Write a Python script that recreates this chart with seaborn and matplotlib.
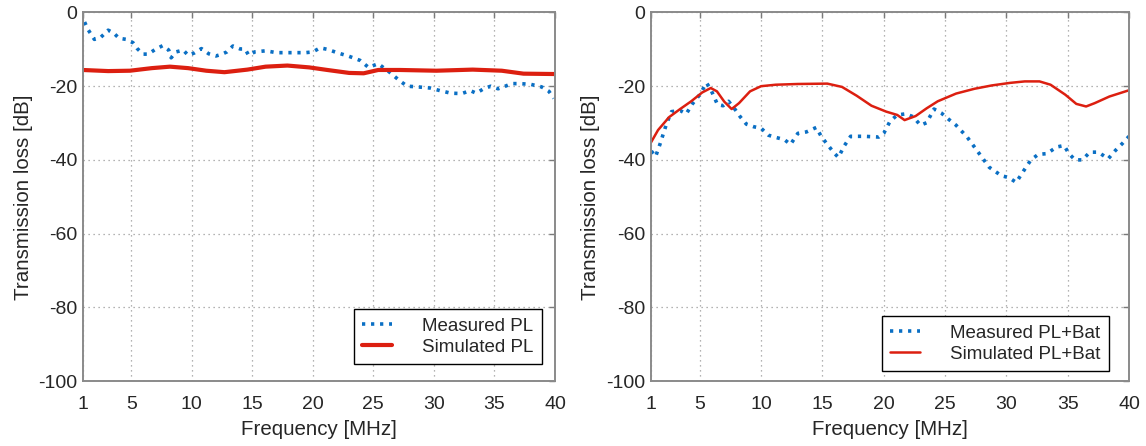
import numpy as np
import pandas as pd
import matplotlib
matplotlib.use("Agg")
import matplotlib.pyplot as plt
import seaborn as sns

# ---- data ----
pl_meas_f = [1.15, 1.45, 1.96, 2.5, 3.1, 3.56, 4.0, 4.6, 5.15, 5.5, 5.97, 6.4, 7.0, 7.6, 8.1, 8.3, 8.7,
             9.3, 9.7, 10.2, 10.8, 11.4, 12.0, 12.5, 12.9, 13.4, 14.0, 14.4, 14.7, 15.2, 16.1, 17.0,
             18.2, 19.4, 20.0, 20.6, 21.2, 22.1, 23.0, 23.9, 24.6, 25.4, 26.3, 27.2, 27.8, 28.7,
             29.7, 30.5, 31.4, 32.3, 33.0, 33.5, 34.1, 34.7, 35.3, 35.9, 36.4, 37.1, 38.0, 38.9,
             39.5, 39.9]
pl_meas_db = [-2.6, -4.7, -7.3, -6.7, -4.8, -5.6, -7.0, -7.3, -8.2, -9.8, -11.3, -11.3, -10.0, -9.0,
              -10.2, -12.3, -10.7, -10.2, -11.6, -11.0, -9.8, -11.2, -11.8, -11.3, -10.7, -9.1, -9.9,
              -9.9, -11.6, -10.7, -10.4, -10.9, -10.9, -10.9, -10.7, -9.6, -10.0, -11.0, -11.9,
              -13.0, -14.9, -13.9, -16.1, -18.6, -20.0, -20.2, -20.5, -21.2, -21.9, -22.0, -21.2,
              -21.9, -20.7, -20.0, -20.7, -20.0, -19.3, -19.3, -19.5, -20.2, -21.4, -23.3]

pl_sim_f = [1, 3.1, 4.9, 6.7, 8.2, 9.7, 11.2, 12.7, 14.6, 16.1, 17.9, 19.7, 21.2, 23.0, 24.2,
            25.4, 27.2, 30.2, 33.2, 35.6, 37.4, 40]
pl_sim_db = [-15.6, -15.9, -15.8, -15.1, -14.7, -15.1, -15.8, -16.2, -15.5, -14.7, -14.4, -14.9,
             -15.6, -16.4, -16.5, -15.6, -15.6, -15.8, -15.5, -15.8, -16.6, -16.7]

bat_meas_f = [1.05, 1.4, 1.75, 2.3, 2.7, 3.4, 3.9, 4.4, 5.0, 5.55, 5.9, 6.45, 6.9, 7.35, 7.9, 8.3,
              8.8, 9.4, 10.0, 10.6, 11.2, 11.9, 12.4, 13.0, 13.7, 14.5, 14.9, 15.4, 16.0, 16.3,
              16.8, 17.3, 18.4, 19.6, 20.0, 20.5, 21.1, 21.8, 22.4, 23.0, 23.5, 24.1, 24.7, 25.3,
              25.9, 26.8, 27.7, 28.6, 29.6, 30.2, 30.8, 31.4, 32.0, 32.6, 33.3, 34.1, 34.7, 35.1,
              35.6, 36.2, 36.8, 37.5, 38.3, 38.9, 39.5, 40]
bat_meas_db = [-37.6, -39.1, -35.8, -30.1, -26.9, -26.6, -27.5, -24.8, -22.3, -19.1, -20.9, -25.0,
               -25.3, -24.1, -26.4, -28.3, -30.3, -31.0, -31.4, -33.3, -33.9, -34.5, -35.8, -32.8,
               -32.4, -31.2, -33.6, -35.8, -38.3, -39.3, -36.1, -33.6, -33.6, -33.8, -32.8, -29.6,
               -27.8, -27.5, -28.3, -30.6, -29.9, -26.2, -27.3, -29.0, -30.6, -33.8, -37.9, -42.0,
               -44.3, -44.8, -46.1, -43.0, -40.0, -38.5, -38.3, -36.5, -36.1, -38.3, -40.0, -40.0,
               -37.9, -37.9, -39.7, -37.4, -35.4, -33.6]

bat_sim_f = [1, 1.6, 2.5, 3.4, 4.3, 5.2, 5.9, 6.4, 7.0, 7.6, 8.2, 9.1, 10.0, 11.2, 13.0, 15.4,
             16.6, 17.8, 19.0, 20.2, 21.1, 21.7, 22.6, 23.5, 24.4, 25.9, 27.4, 28.8, 30.3, 31.5,
             32.7, 33.6, 34.8, 35.7, 36.5, 37.2, 38.4, 40]
bat_sim_db = [-35.4, -31.9, -28.4, -26.2, -24.1, -21.7, -20.5, -21.4, -24.2, -26.2, -24.6, -21.4,
              -20.0, -19.6, -19.4, -19.3, -20.2, -22.6, -25.3, -26.9, -27.8, -29.2, -28.1, -26.0,
              -24.1, -22.0, -20.7, -19.8, -19.1, -18.7, -18.7, -19.6, -22.3, -24.8, -25.5, -24.6,
              -22.8, -21.1]

x_ticks = [1, 5, 10, 15, 20, 25, 30, 35, 40]
y_ticks = [0, -20, -40, -60, -80, -100]

BLUE = "#0a6fc4"
RED = "#dc1f10"

sns.set_style("white")
plt.rcParams["font.family"] = ["Liberation Sans", "DejaVu Sans"]

fig = plt.figure(figsize=(11.46, 4.46), dpi=100)
ax1 = fig.add_axes([0.0722, 0.1457, 0.4121, 0.8263])
ax2 = fig.add_axes([0.5678, 0.1457, 0.4174, 0.8263])

panels = [
    (ax1, pl_meas_f, pl_meas_db, pl_sim_f, pl_sim_db, "Measured PL", "Simulated PL", 3.0,
     (0.9725, 0.046)),
    (ax2, bat_meas_f, bat_meas_db, bat_sim_f, bat_sim_db, "Measured PL+Bat", "Simulated PL+Bat",
     1.8, (0.958, 0.027)),
]

for ax, mf, md, sf, sd, mlab, slab, slw, anchor in panels:
    dfm = pd.DataFrame({"f": mf, "db": md})
    dfs = pd.DataFrame({"f": sf, "db": sd})
    sns.lineplot(data=dfm, x="f", y="db", ax=ax, color=BLUE, lw=2.6, label=mlab,
                 dashes=False)
    sns.lineplot(data=dfs, x="f", y="db", ax=ax, color=RED, lw=slw, label=slab)
    ax.lines[0].set_dashes([0.9, 1.6])
    ax.set_xlim(1, 40)
    ax.set_ylim(-100, 0)
    ax.set_xticks(x_ticks)
    ax.set_yticks(y_ticks)
    ax.set_xticklabels([str(t) for t in x_ticks])
    ax.set_yticklabels([str(t) for t in y_ticks])
    ax.grid(True, linestyle=(0, (1, 3)), color="#9a9a9a", lw=0.9)
    ax.tick_params(direction="in", length=4, width=1, color="#7a7a7a",
                   top=True, right=True, labelsize=14)
    ax.tick_params(axis="x", pad=10.5)
    ax.tick_params(axis="y", pad=4)
    for s in ax.spines.values():
        s.set_color("#8a8a8a")
        s.set_linewidth(1.4)
    ax.set_xlabel("Frequency [MHz]", fontsize=14.8, labelpad=5)
    ax.set_ylabel("Transmission loss [dB]", fontsize=14.8, labelpad=4)
    leg = ax.legend(loc="lower right", bbox_to_anchor=anchor, fontsize=13.5,
                    frameon=True, fancybox=False, edgecolor="black",
                    handlelength=1.6, handletextpad=1.6, borderpad=0.45,
                    labelspacing=0.2, borderaxespad=0)
    leg.get_frame().set_linewidth(1.0)
    leg.get_frame().set_alpha(1)

fig.savefig("out.png", dpi=100)
